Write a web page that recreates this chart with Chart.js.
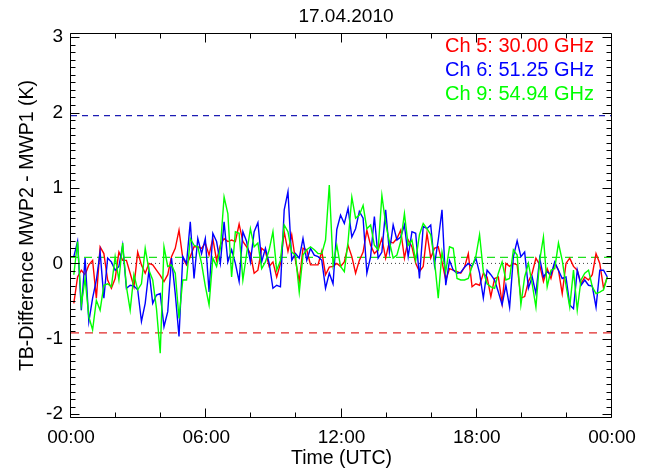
<!DOCTYPE html>
<html>
<head>
<meta charset="utf-8">
<script src="https://cdn.jsdelivr.net/npm/chart.js@4/dist/chart.umd.min.js"></script>
<style>
  html, body { margin: 0; padding: 0; background: #fff; }
</style>
</head>
<body>
<canvas id="chartTB" width="651" height="471"></canvas>
<script>
// TB difference MWP2 - MWP1, 10 minute samples
const ch5 = [
  -0.53, -0.18, -0.09, -0.15, -0.02, 0.04, -0.46, 0.22, 0.13, -0.22,
  -0.33, -0.2, 0.15, 0.04, 0.04, -0.13, -0.31, 0.15, -0.02, -0.13,
  0.0, -0.02, -0.09, -0.16, -0.24, -0.15, 0.09, 0.2, 0.44, 0.07,
  -0.02, 0.09, 0.22, 0.22, 0.2, 0.27, 0.11, 0.33, 0.04, 0.24,
  0.33, 0.29, 0.31, 0.29, 0.52, 0.29, 0.22, 0.13, -0.13, -0.09,
  0.2, 0.16, -0.04, 0.02, -0.18, 0.0, 0.42, 0.16, 0.38, 0.04,
  -0.24, 0.2, 0.18, -0.02, -0.02, -0.02, 0.16, -0.15, -0.05, -0.04,
  0.0, -0.04, 0.02, 0.24, 0.09, -0.13, 0.04, 0.15, 0.44, 0.24,
  0.13, 0.18, 0.33, 0.07, 0.29, 0.27, 0.33, 0.44, 0.07, 0.31,
  0.22, 0.0, -0.11, -0.04, 0.4, 0.07, 0.2, 0.22, 0.02, -0.22,
  -0.07, -0.09, -0.11, -0.13, -0.05, 0.13, -0.31, -0.27, -0.29, -0.13,
  -0.18, -0.44, -0.2, -0.18, -0.53, 0.0, -0.04, 0.0, -0.02, -0.46,
  -0.44, -0.24, -0.13, 0.07, -0.02, -0.24, -0.07, -0.2, 0.0, -0.09,
  -0.4, 0.0, 0.07, -0.04, -0.09, -0.27, -0.18, -0.22, -0.15, 0.13,
  0.0, -0.33, -0.18
];
const ch6 = [
  0.09, 0.29, -0.62, 0.07, -0.77, -0.46, -0.22, 0.15, -0.46, 0.07,
  0.02, -0.09, -0.04, 0.24, -0.33, -0.29, -0.3, -0.35, -0.77, -0.53,
  -0.09, -0.53, -0.42, -0.4, -0.84, -0.64, 0.07, -0.4, -0.97, 0.09,
  0.0, 0.55, -0.2, 0.33, 0.13, 0.33, -0.38, 0.4, 0.29, 0.0,
  0.55, 0.02, 0.18, 0.0, -0.24, 0.42, 0.29, 0.02, 0.42, 0.54,
  0.02, 0.2, 0.0, -0.33, -0.29, -0.31, 0.71, 0.95, 0.04, 0.13,
  0.07, 0.33, 0.04, 0.2, 0.11, 0.09, 0.04, -0.33, -0.13, -0.27,
  0.45, 0.64, 0.53, 0.73, 0.35, 0.46, 0.69, 0.6, -0.13, 0.09,
  0.62, 0.07, 0.15, 0.71, 0.15, 0.51, 0.31, 0.35, 0.51, 0.09,
  0.42, 0.4, -0.2, 0.49, 0.46, 0.51, -0.02, 0.31, 0.71, -0.29,
  0.04, -0.09, -0.13, -0.12, -0.05, 0.0, -0.04, 0.07, -0.13, -0.46,
  -0.09, -0.15, -0.22, -0.38, -0.55, -0.29, -0.58, 0.09, 0.3, 0.09,
  0.15, -0.33, -0.18, -0.4, 0.07, -0.18, -0.11, -0.15, 0.02, -0.09,
  -0.2, -0.18, -0.55, -0.6, -0.09, -0.29, -0.22, -0.29, -0.3, -0.58,
  -0.09, -0.09, -0.18
];
const ch9 = [
  -0.15, 0.29, -0.55, -0.2, -0.71, -0.88, -0.49, -0.62, -0.29, -0.27,
  -0.31, 0.09, -0.22, 0.27, -0.31, -0.62, -0.15, -0.35, -0.27, 0.2,
  -0.09, -0.22, -0.6, -1.19, 0.22, -0.04, -0.02, -0.13, -0.73, -0.22,
  -0.22, 0.33, 0.24, 0.22, 0.0, -0.3, -0.55, 0.07, -0.04, 0.2,
  0.88, 0.66, -0.18, 0.42, 0.4, -0.22, 0.13, 0.46, 0.22, 0.27,
  -0.07, 0.02, 0.18, 0.42, -0.09, 0.04, 0.51, 0.42, 0.15, 0.11,
  -0.38, 0.11, 0.18, 0.22, 0.18, 0.13, 0.13, 0.31, 1.04, -0.02,
  0.24, -0.04, -0.11, 0.29, 0.88, 0.6, 0.64, 0.77, 0.46, 0.51,
  0.24, 0.18, 0.9, 0.53, 0.29, 0.07, 0.11, 0.29, 0.66, 0.24,
  0.31, 0.04, 0.38, 0.53, 0.46, 0.38, 0.04, -0.46, 0.15, -0.11,
  0.22, 0.2, -0.2, -0.22, -0.22, -0.2, -0.04, 0.09, 0.38, -0.11,
  -0.27, -0.31, -0.33, -0.13, 0.02, -0.22, -0.2, 0.18, 0.11, -0.55,
  -0.18, 0.0, -0.27, -0.58, 0.04, 0.35, -0.31, -0.09, -0.07, 0.27,
  0.04, -0.29, -0.58, -0.09, -0.62, -0.22, -0.13, -0.09, -0.31, -0.4,
  -0.38, -0.35, -0.18
];

// sample times (hours UTC)
const firstHour = 0.125;
const stepHour = 1 / 6;

// horizontal reference levels (K)
const levelCh6 = 1.96;
const levelCh5 = -0.92;
const levelCh9 = 0.08;
const levelZero = 0.0;

const xTicks = [0, 6, 12, 18, 24];
const yTicks = [-2, -1, 0, 1, 2, 3];
const channelNames = ['Ch 5: 30.00 GHz', 'Ch 6: 51.25 GHz', 'Ch 9: 54.94 GHz'];
const channelColors = ['#ff0000', '#0000ff', '#00ff00'];
const plotTitle = '17.04.2010';

const FONT = '"Liberation Sans", Arial, Helvetica, sans-serif';

const toPoints = arr => arr.map((v, k) => ({ x: firstHour + k * stepHour, y: v }));
const level = v => [{ x: 0, y: v }, { x: 24, y: v }];

// IDL style frame: box plus inward major/minor ticks on all four sides
const framePlugin = {
  id: 'frame',
  afterDatasetsDraw(chart) {
    const { ctx, chartArea: a, scales: { x, y } } = chart;
    const L = Math.round(a.left) - 0.5, R = Math.round(a.right) - 0.5;
    const T = Math.round(a.top) + 0.5, B = Math.round(a.bottom) - 0.5;
    ctx.save();
    ctx.strokeStyle = '#000';
    ctx.lineWidth = 1;
    ctx.beginPath();
    ctx.rect(L, T, R - L, B - T);
    for (let h = 0; h <= 24; h += 2) {
      const px = Math.round(x.getPixelForValue(h)) - 0.5;
      const len = h % 6 === 0 ? 9 : 5;
      ctx.moveTo(px, B); ctx.lineTo(px, B - len);
      ctx.moveTo(px, T); ctx.lineTo(px, T + len);
    }
    for (let i = -20; i <= 30; i++) {
      const py = Math.round(y.getPixelForValue(i / 10)) + 0.5;
      if (py < T || py > B) continue;
      const len = i % 10 === 0 ? 9 : 5;
      ctx.moveTo(L, py); ctx.lineTo(L + len, py);
      ctx.moveTo(R, py); ctx.lineTo(R - len, py);
    }
    ctx.stroke();
    ctx.restore();
  },
  afterDraw(chart) {
    const { ctx } = chart;
    ctx.save();
    ctx.textBaseline = 'middle';
    ctx.font = '19px ' + FONT;
    ctx.fillStyle = '#000';
    ctx.textAlign = 'center';
    ctx.fillText(plotTitle, 346, 17);
    ctx.font = '20px ' + FONT;
    ctx.textAlign = 'right';
    channelNames.forEach((name, i) => {
      ctx.fillStyle = channelColors[i];
      ctx.fillText(name, 594, 46 + i * 24);
    });
    ctx.restore();
  }
};

const lineStyle = (color, width) => ({
  borderColor: color,
  borderWidth: width,
  pointRadius: 0,
  tension: 0,
  fill: false
});

new Chart(document.getElementById('chartTB'), {
  type: 'line',
  data: {
    datasets: [
      { label: channelNames[2], data: toPoints(ch9), ...lineStyle('#00ff00', 1.4), order: 1 },
      { label: channelNames[1], data: toPoints(ch6), ...lineStyle('#0000ff', 1.4), order: 2 },
      { label: channelNames[0], data: toPoints(ch5), ...lineStyle('#ff0000', 1.4), order: 3 },
      { label: 'ch6 level', data: level(levelCh6), ...lineStyle('#1c1cb4', 1.2), borderDash: [6, 5], order: 4 },
      { label: 'ch5 level', data: level(levelCh5), ...lineStyle('#e02828', 1.2), borderDash: [8, 6], order: 5 },
      { label: 'ch9 level', data: level(levelCh9), ...lineStyle('#20e020', 1.2), borderDash: [8, 5], order: 6 },
      { label: 'zero', data: level(levelZero), ...lineStyle('#404040', 1), borderDash: [1, 3], order: 7 }
    ]
  },
  options: {
    responsive: false,
    animation: false,
    devicePixelRatio: 1,
    layout: { padding: { left: 0, right: 39, top: 33, bottom: 0 } },
    plugins: {
      legend: { display: false },
      tooltip: { enabled: false },
      title: { display: false }
    },
    scales: {
      x: {
        type: 'linear',
        min: 0,
        max: 24,
        afterBuildTicks: s => { s.ticks = xTicks.map(v => ({ value: v })); },
        afterFit: s => { s.height = 53; },
        ticks: {
          color: '#000',
          padding: 8,
          maxRotation: 0,
          autoSkip: false,
          font: { family: FONT, size: 19 },
          callback: v => String(v % 24).padStart(2, '0') + ':00'
        },
        grid: { display: false, drawTicks: false },
        border: { display: false },
        title: {
          display: true,
          text: 'Time (UTC)',
          color: '#000',
          font: { family: FONT, size: 19.5 },
          padding: { top: 0, bottom: 1 }
        }
      },
      y: {
        type: 'linear',
        min: -2.05,
        max: 3.055,
        afterBuildTicks: s => { s.ticks = yTicks.map(v => ({ value: v })); },
        afterFit: s => { s.width = 71; },
        ticks: {
          color: '#000',
          padding: 8,
          font: { family: FONT, size: 19 }
        },
        grid: { display: false, drawTicks: false },
        border: { display: false },
        title: {
          display: true,
          text: 'TB-Difference MWP2 - MWP1 (K)',
          color: '#000',
          font: { family: FONT, size: 19.5 },
          padding: { top: 16, bottom: 0 }
        }
      }
    }
  },
  plugins: [framePlugin]
});
</script>
</body>
</html>
